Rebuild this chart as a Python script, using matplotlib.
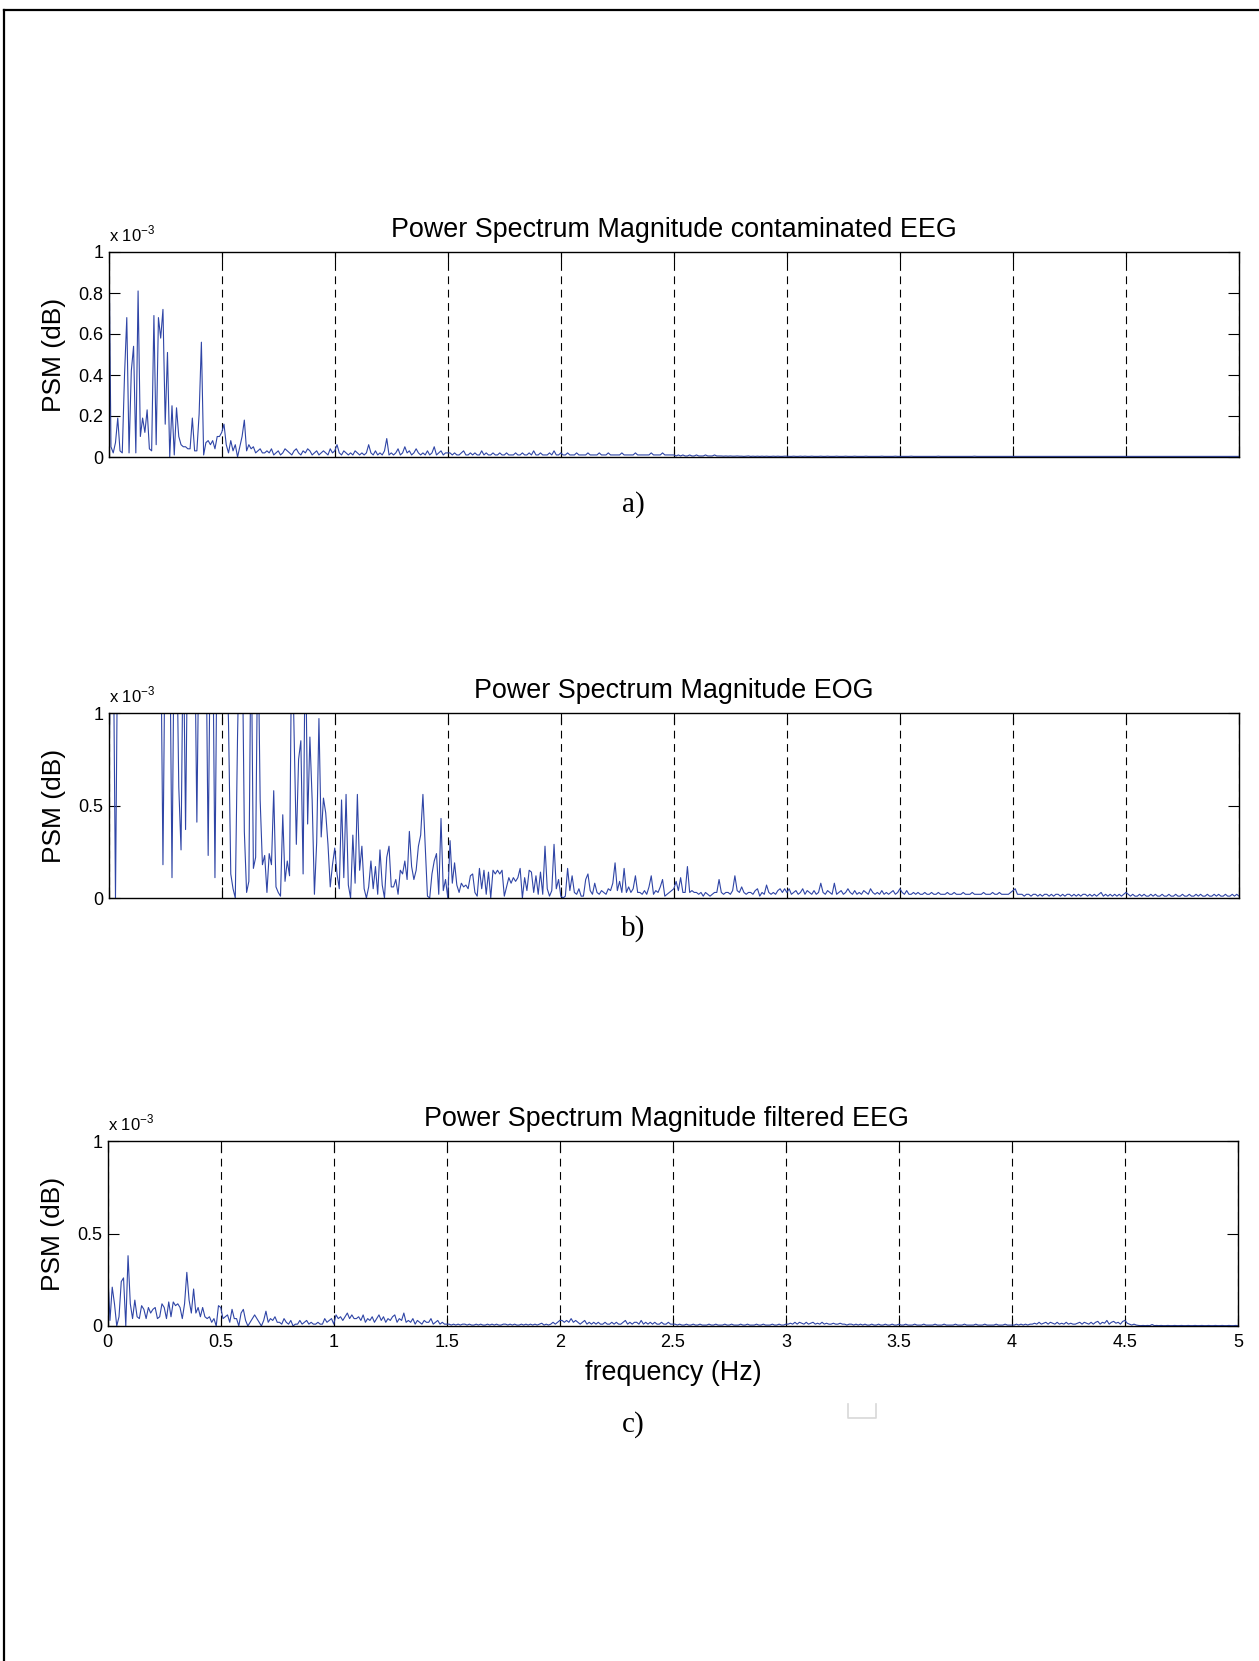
import numpy as np
import matplotlib
matplotlib.use("Agg")
import matplotlib.pyplot as plt
from matplotlib.lines import Line2D
from matplotlib.ticker import FuncFormatter

plt.rcParams['font.family'] = ['Liberation Sans', 'DejaVu Sans']

# PSM values in units of 1e-5, one sample every 0.01 Hz (0 .. 5 Hz)
psm_contaminated = [
    120, 5, 2, 7, 19, 3, 2, 40, 68, 2,
    42, 54, 2, 81, 10, 19, 12, 23, 4, 3,
    69, 6, 68, 58, 72, 16, 51, 0, 25, 1,
    24, 10, 6, 5, 5, 4, 4, 19, 3, 3,
    21, 56, 1, 7, 8, 6, 8, 4, 10, 10,
    12, 16, 6, 2, 8, 3, 6, 0, 5, 10,
    18, 3, 6, 4, 5, 2, 3, 4, 2, 2,
    3, 2, 4, 1, 2, 3, 1, 2, 4, 3,
    2, 1, 3, 4, 2, 1, 3, 2, 4, 3,
    1, 2, 3, 1, 2, 3, 2, 1, 4, 2,
    3, 6, 2, 1, 3, 2, 1, 2, 1, 3,
    2, 1, 2, 1, 2, 6, 2, 1, 3, 1,
    2, 1, 3, 9, 1, 2, 1, 2, 4, 1,
    2, 5, 2, 3, 1, 2, 4, 2, 1, 2,
    1, 3, 1, 2, 5, 1, 2, 3, 1, 2,
    2, 2, 1, 2, 1, 1, 2, 3, 1, 1,
    2, 1, 2, 1, 1, 3, 1, 2, 1, 1,
    2, 1, 1, 2, 1, 1, 2, 1, 1, 1,
    2, 1, 1, 2, 1, 1, 2, 1, 3, 1,
    1, 2, 1, 1, 1, 2, 1, 3, 1, 1,
    2, 1, 1, 2, 1, 1, 1, 2, 1, 1,
    1, 1, 2, 1, 1, 1, 1, 2, 1, 1,
    1, 2, 1, 1, 1, 1, 1, 2, 1, 1,
    1, 1, 1, 2, 1, 1, 1, 1, 1, 1,
    2, 1, 1, 1, 1, 2, 1, 1, 1, 1,
    1, 0.5, 1, 0.5, 1, 0.5, 0.5, 1, 0.5, 0.5,
    1, 0.5, 0.5, 0.5, 1, 0.5, 0.5, 0.5, 1, 0.5,
    0.5, 0.5, 0.4, 0.5, 0.4, 0.5, 0.4, 0.4, 0.5, 0.4,
    0.4, 0.3, 0.4, 0.5, 0.3, 0.4, 0.3, 0.4, 0.3, 0.4,
    0.3, 0.4, 0.3, 0.3, 0.4, 0.3, 0.4, 0.3, 0.3, 0.4,
    0.4, 0.3, 0.3, 0.4, 0.3, 0.3, 0.4, 0.3, 0.4, 0.3,
    0.3, 0.4, 0.3, 0.3, 0.3, 0.4, 0.3, 0.3, 0.4, 0.3,
    0.3, 0.3, 0.4, 0.3, 0.3, 0.3, 0.4, 0.3, 0.3, 0.3,
    0.4, 0.3, 0.3, 0.3, 0.3, 0.4, 0.3, 0.3, 0.3, 0.3,
    0.3, 0.3, 0.4, 0.3, 0.3, 0.3, 0.3, 0.3, 0.4, 0.3,
    0.3, 0.3, 0.3, 0.3, 0.3, 0.4, 0.3, 0.3, 0.3, 0.3,
    0.3, 0.3, 0.3, 0.3, 0.3, 0.3, 0.3, 0.4, 0.3, 0.3,
    0.3, 0.3, 0.3, 0.3, 0.3, 0.3, 0.3, 0.3, 0.3, 0.3,
    0.3, 0.3, 0.3, 0.4, 0.3, 0.3, 0.3, 0.3, 0.3, 0.3,
    0.3, 0.3, 0.3, 0.3, 0.3, 0.3, 0.3, 0.3, 0.3, 0.3,
    0.3, 0.3, 0.3, 0.3, 0.3, 0.3, 0.3, 0.3, 0.3, 0.3,
    0.3, 0.3, 0.3, 0.3, 0.3, 0.3, 0.3, 0.3, 0.3, 0.3,
    0.3, 0.3, 0.3, 0.3, 0.3, 0.3, 0.3, 0.3, 0.3, 0.3,
    0.3, 0.3, 0.3, 0.3, 0.3, 0.3, 0.3, 0.3, 0.3, 0.3,
    0.3, 0.3, 0.3, 0.3, 0.3, 0.3, 0.3, 0.3, 0.3, 0.3,
    0.3, 0.3, 0.3, 0.3, 0.3, 0.3, 0.3, 0.3, 0.3, 0.3,
    0.3, 0.3, 0.3, 0.3, 0.3, 0.3, 0.3, 0.3, 0.3, 0.3,
    0.3, 0.3, 0.3, 0.3, 0.3, 0.3, 0.3, 0.3, 0.3, 0.3,
    0.3, 0.3, 0.3, 0.3, 0.3, 0.3, 0.3, 0.3, 0.3, 0.3,
    0.3, 0.3, 0.3, 0.3, 0.3, 0.3, 0.3, 0.3, 0.3, 0.3,
    0.3,
]

psm_eog = [
    53, 150, 150, 0, 150, 150, 150, 150, 150, 150,
    150, 150, 150, 150, 150, 150, 150, 150, 150, 150,
    150, 150, 150, 150, 18, 150, 150, 150, 11, 150,
    150, 60, 26, 150, 37, 150, 150, 150, 150, 41,
    150, 150, 150, 150, 23, 150, 150, 11, 150, 150,
    150, 120, 140, 95, 13, 5, 0, 88, 150, 150,
    36, 3, 9, 150, 16, 22, 150, 53, 18, 23,
    3, 24, 18, 58, 6, 3, 1, 45, 9, 20,
    12, 150, 90, 29, 75, 85, 13, 150, 40, 87,
    53, 2, 30, 97, 33, 54, 46, 29, 6, 18,
    27, 13, 5, 53, 11, 56, 7, 0, 34, 8,
    56, 15, 28, 5, 0, 6, 20, 5, 17, 2,
    26, 7, 0, 22, 28, 6, 6, 10, 2, 15,
    13, 20, 10, 36, 17, 10, 15, 28, 34, 56,
    29, 1, 0, 13, 20, 24, 2, 43, 4, 10,
    0, 31, 8, 19, 7, 3, 8, 6, 7, 5,
    12, 13, 3, 1, 16, 5, 15, 2, 14, 0,
    15, 13, 15, 13, 15, 1, 6, 11, 8, 11,
    9, 11, 16, 0, 11, 4, 15, 14, 3, 12,
    2, 14, 2, 28, 5, 1, 4, 29, 5, 10,
    1, 0, 1, 16, 4, 12, 3, 2, 5, 1,
    1, 10, 13, 4, 2, 8, 3, 2, 4, 3,
    2, 5, 4, 8, 19, 4, 9, 3, 16, 3,
    6, 3, 5, 12, 3, 3, 2, 4, 2, 6,
    12, 2, 4, 3, 6, 10, 1, 2, 3, 4,
    5, 9, 4, 11, 3, 3, 17, 3, 4, 3,
    3, 2, 3, 1, 3, 2, 1, 2, 3, 3,
    10, 3, 2, 3, 3, 2, 4, 12, 4, 3,
    6, 3, 2, 3, 3, 2, 4, 5, 1, 3,
    2, 7, 3, 2, 3, 2, 4, 5, 3, 5,
    3, 5, 2, 3, 4, 2, 3, 5, 2, 4,
    3, 2, 4, 2, 3, 8, 3, 2, 4, 3,
    2, 8, 2, 3, 4, 2, 3, 5, 3, 2,
    4, 2, 3, 2, 4, 3, 2, 5, 3, 2,
    3, 2, 4, 2, 3, 2, 3, 4, 2, 3,
    5, 3, 2, 4, 2, 2, 3, 2, 3, 2,
    2, 3, 2, 2, 3, 2, 2, 3, 2, 2,
    2, 3, 2, 2, 3, 2, 2, 2, 3, 2,
    2, 2, 3, 2, 2, 2, 2, 3, 2, 2,
    2, 3, 2, 2, 3, 2, 2, 2, 2, 3,
    4, 5, 2, 2, 2, 1, 2, 2, 1, 2,
    2, 1, 2, 1, 2, 2, 1, 2, 1, 2,
    2, 1, 2, 1, 2, 2, 1, 2, 1, 2,
    1, 2, 2, 1, 2, 1, 2, 1, 2, 3,
    1, 2, 1, 2, 1, 2, 1, 2, 1, 2,
    3, 2, 1, 2, 1, 1, 2, 1, 2, 1,
    1, 2, 1, 2, 1, 1, 2, 1, 1, 2,
    1, 1, 2, 1, 1, 2, 1, 1, 2, 1,
    1, 2, 1, 2, 1, 1, 2, 1, 1, 2,
    1, 2, 1, 1, 2, 1, 1, 2, 1, 2,
    1,
]

psm_filtered = [
    31, 3, 21, 12, 0, 5, 24, 26, 0, 38,
    12, 4, 14, 5, 4, 11, 9, 4, 10, 7,
    9, 10, 4, 5, 12, 10, 4, 13, 5, 13,
    11, 12, 10, 4, 12, 29, 14, 7, 20, 7,
    10, 5, 10, 5, 4, 5, 2, 4, 0, 11,
    10, 4, 5, 6, 2, 9, 4, 4, 0, 7,
    9, 3, 0, 2, 4, 6, 4, 2, 0, 3,
    8, 2, 4, 3, 5, 2, 2, 1, 4, 2,
    1, 3, 0, 1, 1, 3, 1, 2, 3, 1,
    2, 1, 1, 2, 1, 1, 4, 2, 3, 4,
    1, 6, 4, 5, 3, 5, 7, 4, 6, 4,
    4, 5, 3, 6, 2, 4, 3, 5, 2, 4,
    6, 3, 5, 2, 4, 3, 5, 6, 2, 4,
    3, 7, 2, 3, 2, 4, 1, 3, 2, 1,
    3, 2, 2, 4, 1, 2, 3, 1, 2, 1,
    1, 1, 0.5, 1, 0.5, 1, 0.5, 1, 1, 0.5,
    1, 0.5, 0.5, 1, 0.5, 1, 0.5, 0.5, 1, 0.5,
    1, 0.5, 1, 0.5, 0.5, 1, 1, 0.5, 1, 0.5,
    1, 0.5, 0.5, 1, 0.5, 1, 0.5, 1, 0.5, 1,
    0.5, 1, 1.5, 0.5, 1, 0.5, 1, 2, 1, 2,
    3, 3, 2, 3, 2, 4, 2, 3, 2, 1,
    2, 3, 1, 2, 1, 2, 1, 2, 1, 1,
    2, 1, 1, 2, 1, 2, 1, 1, 2, 3,
    1, 2, 1, 2, 2, 1, 3, 1, 2, 1,
    2, 1, 2, 1, 1, 2, 1, 1, 2, 1,
    1, 1, 0.5, 1, 0.5, 0.5, 1, 0.5, 0.5, 1,
    0.5, 0.5, 1, 0.5, 0.5, 0.5, 1, 0.5, 0.5, 1,
    0.5, 0.5, 0.5, 1, 0.5, 0.5, 1, 0.5, 0.5, 0.5,
    1, 0.5, 0.5, 1, 0.5, 0.5, 0.5, 1, 0.5, 0.5,
    1, 0.5, 0.5, 0.5, 1, 0.5, 0.5, 1, 0.5, 0.5,
    1, 1, 1.5, 1, 2, 1, 2, 1.5, 1, 2,
    1, 1.5, 2, 1, 1.5, 1, 2, 1, 1.5, 1,
    1, 1.5, 1, 1, 1.5, 1, 1, 0.5, 1, 1,
    0.5, 1, 0.5, 1, 0.5, 1, 0.5, 0.5, 1, 0.5,
    0.5, 1, 0.5, 0.5, 1, 0.5, 0.5, 1, 0.5, 0.5,
    1, 0.5, 0.5, 1, 0.5, 0.5, 0.5, 1, 0.5, 0.5,
    0.5, 1, 0.5, 0.5, 0.5, 0.5, 1, 0.5, 0.5, 0.5,
    1, 0.5, 0.5, 0.5, 0.5, 1, 0.5, 0.5, 0.5, 1,
    0.5, 0.5, 0.5, 0.5, 1, 0.5, 0.5, 0.5, 1, 0.5,
    0.5, 0.5, 0.5, 1, 0.5, 0.5, 0.5, 1, 0.5, 0.5,
    0.5, 0.5, 1, 0.5, 1, 0.5, 1, 0.5, 1, 1,
    1.5, 1, 2, 1, 1.5, 2, 1, 2, 1.5, 1,
    2, 1, 1.5, 1, 2, 1, 1.5, 1, 1, 1.5,
    2, 1, 2, 1.5, 1, 2, 1, 2, 2.5, 1,
    2, 1.5, 3, 1, 2, 2.5, 1.5, 2, 1, 2.5,
    3, 1.5, 1, 0.5, 1, 0.5, 0.3, 0.2, 0.3, 0.2,
    0.3, 0.2, 0.8, 0.2, 0.3, 0.2, 0.3, 0.2, 0.2, 0.3,
    0.2, 0.2, 0.3, 0.2, 0.2, 0.3, 0.2, 0.2, 0.3, 0.2,
    0.2, 0.3, 0.2, 0.2, 0.3, 0.2, 0.2, 0.3, 0.2, 0.2,
    0.3, 0.2, 0.2, 0.3, 0.2, 0.2, 0.3, 0.2, 0.2, 0.3,
    0.2,
]

titles = ["Power Spectrum Magnitude contaminated EEG",
          "Power Spectrum Magnitude EOG",
          "Power Spectrum Magnitude filtered EEG"]
panel_labels = ["a)", "b)", "c)"]
ytick_sets = [[0, 0.2, 0.4, 0.6, 0.8, 1.0], [0, 0.5, 1.0], [0, 0.5, 1.0]]
xticks = [0, 0.5, 1, 1.5, 2, 2.5, 3, 3.5, 4, 4.5, 5]

W, H = 1259, 1661
fig = plt.figure(figsize=(W / 100, H / 100), dpi=100)

# axes boxes in pixels: left, top, right, bottom
boxes = [(108.7, 252, 1239, 457), (108.7, 713, 1239, 898), (107.7, 1141, 1238, 1326)]
label_y = [505, 929, 1425]
title_x = [0.5, 0.5, 0.4944]
series = [psm_contaminated, psm_eog, psm_filtered]

for k in range(3):
    l, t, r, b = boxes[k]
    ax = fig.add_axes([l / W, 1 - b / H, (r - l) / W, (b - t) / H])
    vals = np.array(series[k]) * 1e-5
    freq = np.arange(len(vals)) * 0.01
    ax.plot(freq, vals, color='#2f45a6', lw=0.8)
    ax.set_xlim(0, 5)
    ax.set_ylim(0, 1e-3)
    ax.set_xticks(xticks)
    ax.set_yticks([v * 1e-3 for v in ytick_sets[k]])
    ax.yaxis.set_major_formatter(FuncFormatter(lambda v, p: f"{v * 1e3:g}"))
    ax.xaxis.set_major_formatter(FuncFormatter(lambda v, p: f"{v:g}"))
    ax.tick_params(direction='in', length=8, width=0.8, top=True, right=True,
                   labelsize=13, pad=4)
    ax.tick_params(axis='x', pad=5.5)
    if k < 2:
        ax.tick_params(axis='x', labelbottom=False)
    ax.grid(axis='x', color='k', ls=(0, (7, 5)), lw=0.8)
    for s in ax.spines.values():
        s.set_linewidth(1.0)
    ax.set_title(titles[k], fontsize=19.4, pad=11, x=title_x[k])
    ax.set_ylabel("PSM (dB)", fontsize=19)
    ax.yaxis.set_label_coords(-0.038, 0.5)
    ax.annotate("x 10$^{\\mathregular{-3}}$", xy=(0, 1), xycoords='axes fraction',
                xytext=(0, 7.4), textcoords='offset points',
                ha='left', va='baseline', fontsize=12)
    if k == 2:
        ax.set_xlabel("frequency (Hz)", fontsize=19.4)
        ax.xaxis.set_label_coords(0.5, -0.185)
    fig.text(633 / W, 1 - label_y[k] / H, panel_labels[k], ha='center', va='center',
             fontsize=21, family='Liberation Serif')

# page frame (top and left edges) and small bracket mark
fig.add_artist(Line2D([4 / W, 1], [1 - 10 / H, 1 - 10 / H], color='k', lw=1.6,
                      transform=fig.transFigure))
fig.add_artist(Line2D([4 / W, 4 / W], [0, 1 - 10 / H], color='k', lw=1.6,
                      transform=fig.transFigure))
fig.add_artist(Line2D([848 / W, 848 / W, 876 / W, 876 / W],
                      [1 - 1404 / H, 1 - 1418 / H, 1 - 1418 / H, 1 - 1404 / H],
                      color='#d8d8d8', lw=1.2, transform=fig.transFigure))

fig.savefig("out.png", dpi=100)
